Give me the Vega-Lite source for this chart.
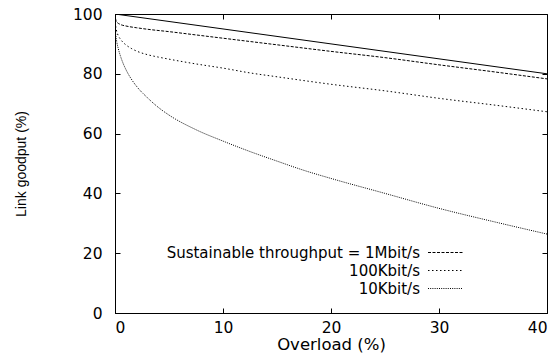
{
  "$schema": "https://vega.github.io/schema/vega-lite/v6.json",
  "width": 432,
  "height": 299,
  "autosize": {"type": "none"},
  "padding": {"left": 115, "top": 14, "right": 11, "bottom": 43},
  "background": "white",
  "config": {
    "view": {"stroke": "black", "strokeWidth": 1},
    "font": "DejaVu Sans",
    "axis": {
      "domainColor": "black",
      "tickColor": "black",
      "labelColor": "black",
      "titleColor": "black",
      "grid": false,
      "labelFont": "DejaVu Sans",
      "labelFontSize": 15.5,
      "titleFont": "DejaVu Sans",
      "titleFontSize": 16.5,
      "titleFontWeight": "normal",
      "tickSize": -5
    }
  },
  "data": {
    "values": [
      {"x": 0, "y": 100, "s": "max"},
      {"x": 10, "y": 95, "s": "max"},
      {"x": 20, "y": 90, "s": "max"},
      {"x": 30, "y": 85, "s": "max"},
      {"x": 40, "y": 80, "s": "max"},

      {"x": 0, "y": 100, "s": "Sustainable throughput = 1Mbit/s"},
      {"x": 0.05, "y": 98.5, "s": "Sustainable throughput = 1Mbit/s"},
      {"x": 0.15, "y": 97.4, "s": "Sustainable throughput = 1Mbit/s"},
      {"x": 0.5, "y": 96.5, "s": "Sustainable throughput = 1Mbit/s"},
      {"x": 1, "y": 96.0, "s": "Sustainable throughput = 1Mbit/s"},
      {"x": 2, "y": 95.4, "s": "Sustainable throughput = 1Mbit/s"},
      {"x": 3, "y": 94.9, "s": "Sustainable throughput = 1Mbit/s"},
      {"x": 5, "y": 94.1, "s": "Sustainable throughput = 1Mbit/s"},
      {"x": 7.5, "y": 93.0, "s": "Sustainable throughput = 1Mbit/s"},
      {"x": 10, "y": 91.9, "s": "Sustainable throughput = 1Mbit/s"},
      {"x": 12.5, "y": 90.8, "s": "Sustainable throughput = 1Mbit/s"},
      {"x": 15, "y": 89.7, "s": "Sustainable throughput = 1Mbit/s"},
      {"x": 20, "y": 87.5, "s": "Sustainable throughput = 1Mbit/s"},
      {"x": 25, "y": 85.4, "s": "Sustainable throughput = 1Mbit/s"},
      {"x": 30, "y": 83.0, "s": "Sustainable throughput = 1Mbit/s"},
      {"x": 35, "y": 80.7, "s": "Sustainable throughput = 1Mbit/s"},
      {"x": 40, "y": 78.3, "s": "Sustainable throughput = 1Mbit/s"},

      {"x": 0, "y": 100, "s": "100Kbit/s"},
      {"x": 0.05, "y": 96.5, "s": "100Kbit/s"},
      {"x": 0.15, "y": 94.3, "s": "100Kbit/s"},
      {"x": 0.3, "y": 92.8, "s": "100Kbit/s"},
      {"x": 0.5, "y": 91.6, "s": "100Kbit/s"},
      {"x": 0.75, "y": 90.5, "s": "100Kbit/s"},
      {"x": 1, "y": 89.7, "s": "100Kbit/s"},
      {"x": 1.5, "y": 88.5, "s": "100Kbit/s"},
      {"x": 2, "y": 87.6, "s": "100Kbit/s"},
      {"x": 3, "y": 86.4, "s": "100Kbit/s"},
      {"x": 4, "y": 85.6, "s": "100Kbit/s"},
      {"x": 5, "y": 84.9, "s": "100Kbit/s"},
      {"x": 7.5, "y": 83.3, "s": "100Kbit/s"},
      {"x": 10, "y": 81.9, "s": "100Kbit/s"},
      {"x": 12.5, "y": 80.3, "s": "100Kbit/s"},
      {"x": 15, "y": 79.0, "s": "100Kbit/s"},
      {"x": 20, "y": 76.5, "s": "100Kbit/s"},
      {"x": 25, "y": 74.3, "s": "100Kbit/s"},
      {"x": 30, "y": 71.8, "s": "100Kbit/s"},
      {"x": 35, "y": 69.6, "s": "100Kbit/s"},
      {"x": 40, "y": 67.3, "s": "100Kbit/s"},

      {"x": 0, "y": 100, "s": "10Kbit/s"},
      {"x": 0.05, "y": 94, "s": "10Kbit/s"},
      {"x": 0.15, "y": 91, "s": "10Kbit/s"},
      {"x": 0.3, "y": 88.5, "s": "10Kbit/s"},
      {"x": 0.5, "y": 86, "s": "10Kbit/s"},
      {"x": 0.75, "y": 83.5, "s": "10Kbit/s"},
      {"x": 1, "y": 81.5, "s": "10Kbit/s"},
      {"x": 1.5, "y": 78.3, "s": "10Kbit/s"},
      {"x": 2, "y": 75.8, "s": "10Kbit/s"},
      {"x": 3, "y": 72, "s": "10Kbit/s"},
      {"x": 4, "y": 68.8, "s": "10Kbit/s"},
      {"x": 5, "y": 66.2, "s": "10Kbit/s"},
      {"x": 7.5, "y": 61.3, "s": "10Kbit/s"},
      {"x": 10, "y": 57.5, "s": "10Kbit/s"},
      {"x": 12.5, "y": 54, "s": "10Kbit/s"},
      {"x": 15, "y": 50.8, "s": "10Kbit/s"},
      {"x": 17.5, "y": 47.7, "s": "10Kbit/s"},
      {"x": 20, "y": 45, "s": "10Kbit/s"},
      {"x": 25, "y": 40, "s": "10Kbit/s"},
      {"x": 30, "y": 35, "s": "10Kbit/s"},
      {"x": 35, "y": 30.6, "s": "10Kbit/s"},
      {"x": 40, "y": 26.4, "s": "10Kbit/s"}
    ]
  },
  "layer": [
    {
      "transform": [{"filter": "datum.s !== 'max'"}],
      "mark": {"type": "line", "color": "black", "strokeWidth": 1, "interpolate": "monotone", "clip": true},
      "encoding": {
        "x": {
          "field": "x", "type": "quantitative",
          "scale": {"domain": [0, 40], "nice": false},
          "axis": {"values": [0, 10, 20, 30, 40], "title": "Overload (%)", "titlePadding": 1, "labelPadding": 12}
        },
        "y": {
          "field": "y", "type": "quantitative",
          "scale": {"domain": [0, 100], "nice": false},
          "axis": {"values": [0, 20, 40, 60, 80, 100], "title": "Link goodput (%)", "titleFont": "Liberation Sans", "titleFontSize": 14, "titlePadding": 44, "labelPadding": 18}
        },
        "strokeDash": {
          "field": "s", "type": "nominal",
          "scale": {
            "domain": ["Sustainable throughput = 1Mbit/s", "100Kbit/s", "10Kbit/s"],
            "range": [[3, 1.5], [1.5, 2.5], [1, 1.2]]
          },
          "legend": {
            "title": null,
            "orient": "none",
            "legendX": 323,
            "legendY": 231,
            "symbolType": "M-3.5,0H3.5",
            "symbolSize": 100,
            "symbolStrokeColor": "black",
            "symbolStrokeWidth": 1,
            "symbolFillColor": "transparent",
            "labelFont": "DejaVu Sans",
            "labelFontSize": 15,
            "labelColor": "black",
            "labelAlign": "right",
            "labelOffset": -33,
            "rowPadding": 2,
            "padding": 0,
            "labelLimit": 400
          }
        }
      }
    },
    {
      "transform": [{"filter": "datum.s === 'max'"}],
      "mark": {"type": "line", "color": "black", "strokeWidth": 1, "clip": true},
      "encoding": {
        "x": {"field": "x", "type": "quantitative", "axis": {"orient": "top", "values": [0, 10, 20, 30, 40], "labels": false, "title": null, "domain": false}},
        "y": {"field": "y", "type": "quantitative", "axis": {"orient": "right", "values": [0, 20, 40, 60, 80, 100], "labels": false, "title": null, "domain": false}}
      }
    }
  ],
  "resolve": {"axis": {"x": "independent", "y": "independent"}}
}
